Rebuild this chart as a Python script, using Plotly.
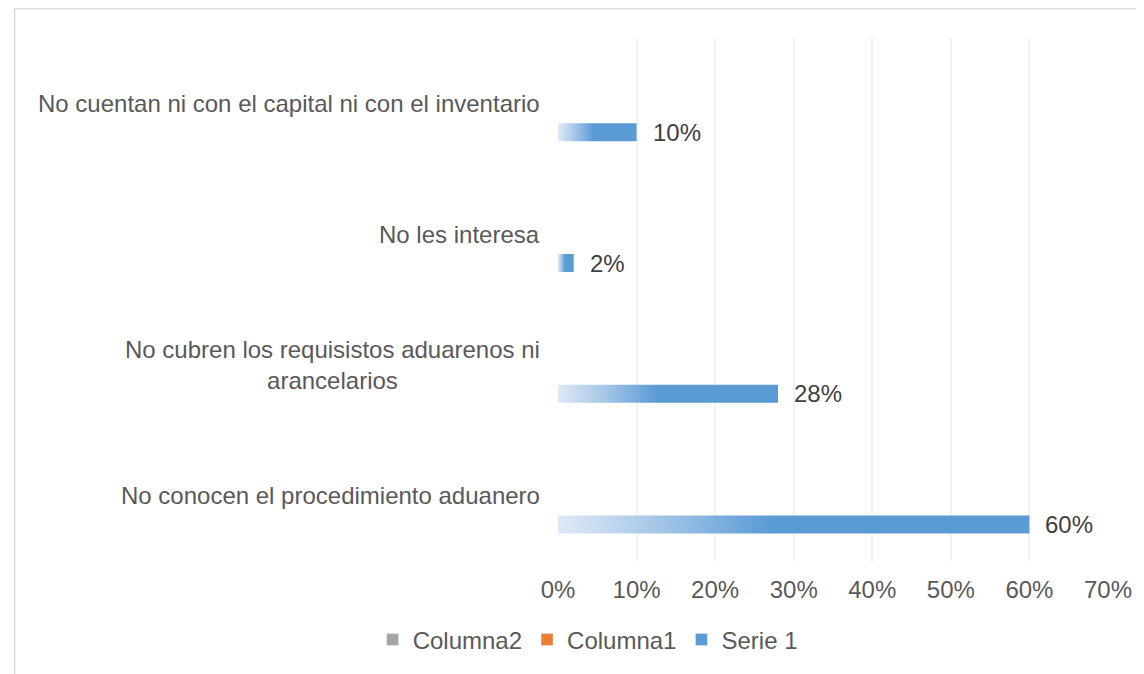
import plotly.graph_objects as go

# ---------- data ---------- #
categories = [
    "No cuentan ni con el capital ni con el inventario",
    "No les interesa",
    "No cubren los requisistos aduarenos ni<br>arancelarios",
    "No conocen el procedimiento aduanero",
]
serie1 = [10, 2, 28, 60]
columna1 = [None, None, None, None]
columna2 = [None, None, None, None]
x_ticks = [0, 10, 20, 30, 40, 50, 60, 70]

FONT = "Liberation Sans, Arial, sans-serif"
TEXT = "#595959"
BLUE = "#5b9bd5"
bar_shift = -0.221   # Serie 1 sits at the bottom of each category slot
bar_half = 0.069

# category positions, top of the list is drawn at the top
positions = [len(categories) - 1 - i for i in range(len(categories))]

fig = go.Figure()

# legend entries (Excel order)
fig.add_trace(go.Bar(x=columna2, y=positions, orientation="h", name="Columna2",
                     marker_color="#a5a5a5", hoverinfo="skip"))
fig.add_trace(go.Bar(x=columna1, y=positions, orientation="h", name="Columna1",
                     marker_color="#ed7d31", hoverinfo="skip"))
fig.add_trace(go.Bar(x=[None] * len(serie1), y=positions, orientation="h", name="Serie 1",
                     marker_color=BLUE, legendgroup="s1", hoverinfo="skip"))

# Serie 1 bars with the gradient fill
for val, pos in zip(serie1, positions):
    y0 = pos + bar_shift - bar_half
    y1 = pos + bar_shift + bar_half
    fig.add_trace(go.Scatter(
        x=[0, val, val, 0, 0],
        y=[y0, y0, y1, y1, y0],
        mode="lines",
        fill="toself",
        line=dict(width=0, color=BLUE),
        fillgradient=dict(
            type="horizontal",
            colorscale=[[0, "#dfe9f5"], [0.2, "#a9c8e8"], [0.45, BLUE], [1, BLUE]],
        ),
        legendgroup="s1",
        showlegend=False,
        hoverinfo="skip",
    ))
    fig.add_annotation(x=val, y=pos + bar_shift, text=f"{val}%", showarrow=False,
                       xanchor="left", xshift=14,
                       font=dict(family=FONT, size=24, color="#404040"))

# category labels
for cat, pos in zip(categories, positions):
    fig.add_annotation(x=0, y=pos, xref="paper", text=cat, showarrow=False,
                       xanchor="right", xshift=-16, align="center",
                       font=dict(family=FONT, size=24, color=TEXT))

# chart frame
fig.add_shape(type="rect", xref="paper", yref="paper",
              x0=-0.988, x1=1.08, y0=-0.24, y1=1.0563,
              line=dict(color="#d9d9d9", width=1.5), layer="below")

fig.update_layout(
    width=1136,
    height=666,
    margin=dict(l=550, r=33, t=30, b=112),
    paper_bgcolor="white",
    plot_bgcolor="white",
    barmode="overlay",
    font=dict(family=FONT, size=24, color=TEXT),
    xaxis=dict(
        range=[0, 70],
        tickvals=x_ticks,
        ticktext=[f"{t}%" for t in x_ticks],
        showgrid=True,
        gridcolor="#f1f1f1",
        gridwidth=2,
        zeroline=False,
        showline=False,
        ticks="",
        ticklabelstandoff=12,
        tickfont=dict(family=FONT, size=24, color=TEXT),
    ),
    yaxis=dict(
        range=[-0.5, 3.5],
        showgrid=False,
        zeroline=False,
        showticklabels=False,
        ticks="",
    ),
    legend=dict(
        orientation="h",
        x=-0.337,
        xanchor="left",
        y=-0.151,
        yanchor="middle",
        font=dict(family=FONT, size=24, color=TEXT),
        itemwidth=30,
    ),
)

fig.write_html("out.html")
